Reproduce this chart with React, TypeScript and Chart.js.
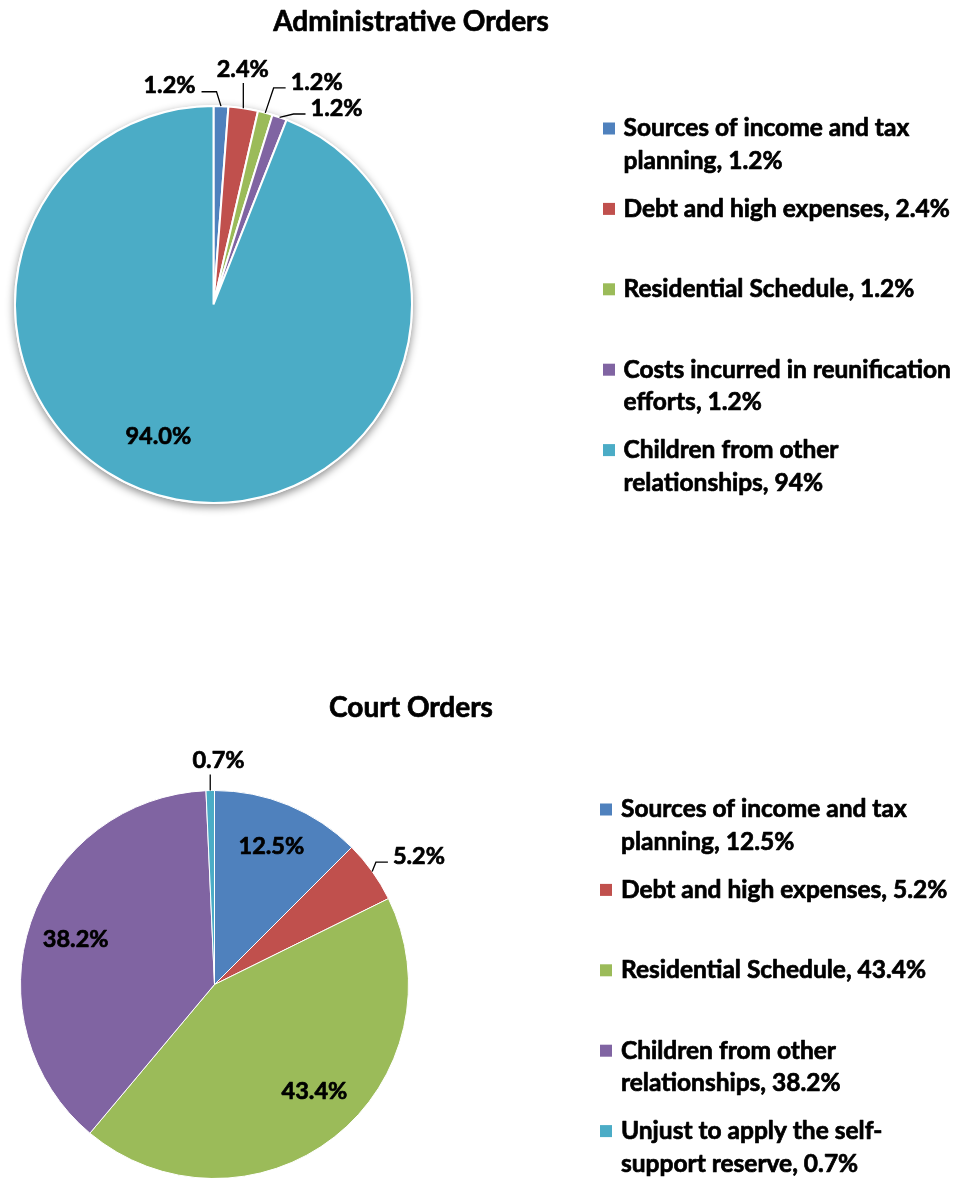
import React, { useEffect, useRef } from "react";
import { Chart, registerables } from "chart.js";

Chart.register(...registerables);

// ---------- DATA ----------
const adminTitle = "Administrative Orders";
const adminCategories = [
  "Sources of income and tax planning",
  "Debt and high expenses",
  "Residential Schedule",
  "Costs incurred in reunification efforts",
  "Children from other relationships",
];
const adminValues = [1.2, 2.4, 1.2, 1.2, 94.0];

const courtTitle = "Court Orders";
const courtCategories = [
  "Sources of income and tax planning",
  "Debt and high expenses",
  "Residential Schedule",
  "Children from other relationships",
  "Unjust to apply the self-support reserve",
];
const courtValues = [12.5, 5.2, 43.4, 38.2, 0.7];

const sliceColors = ["#4F81BD", "#C0504D", "#9BBB59", "#8064A2", "#4BACC6"];

// ---------- STYLE / LAYOUT ----------
const FONT = "Lato, 'Open Sans', sans-serif";
const TITLE_SIZE = 28;
const LABEL_SIZE = 23.5;
const LEGEND_SIZE = 24.5;
const HEAVY = 0.7; // extra stroke to thicken the bold face

type LabelLayout = {
  mode: "in" | "out";
  f?: number;
  dx: number;
  dy: number;
  leader?: "elbow" | "vertical";
};

const adminLabelLayout: LabelLayout[] = [
  { mode: "out", dx: -51.5, dy: -20.4, leader: "elbow" },
  { mode: "out", dx: -0.6, dy: -39.3, leader: "vertical" },
  { mode: "out", dx: 51.4, dy: -30.9, leader: "elbow" },
  { mode: "out", dx: 57, dy: -9.3, leader: "elbow" },
  { mode: "in", f: 0.75, dx: -27.3, dy: -14.2 },
];

const courtLabelLayout: LabelLayout[] = [
  { mode: "in", f: 0.8, dx: -2.5, dy: 5 },
  { mode: "out", dx: 46.8, dy: -15.3, leader: "elbow" },
  { mode: "in", f: 0.75, dx: 10, dy: -7 },
  { mode: "in", f: 0.75, dx: -1, dy: 2 },
  { mode: "out", dx: 8.3, dy: -30, leader: "vertical" },
];

function fmtLabel(v: number) {
  return v.toFixed(1) + "%";
}
function fmtLegend(v: number) {
  return (Number.isInteger(v) ? String(v) : v.toFixed(1)) + "%";
}

function wrap(ctx: CanvasRenderingContext2D, text: string, maxW: number) {
  const tokens: string[] = [];
  text.split(" ").forEach((w, i, arr) => {
    const parts = w.split(/(?<=-)/);
    parts.forEach((p, j) => {
      const last = j === parts.length - 1;
      tokens.push(p + (last && i < arr.length - 1 ? " " : ""));
    });
  });
  const lines: string[] = [];
  let cur = "";
  for (const t of tokens) {
    const test = cur + t;
    if (cur && ctx.measureText(test.trimEnd()).width > maxW) {
      lines.push(cur.trimEnd());
      cur = t;
    } else {
      cur = test;
    }
  }
  if (cur) lines.push(cur.trimEnd());
  return lines;
}

function heavyText(ctx: CanvasRenderingContext2D, t: string, x: number, y: number) {
  ctx.fillText(t, x, y);
  ctx.save();
  ctx.lineWidth = HEAVY;
  ctx.strokeStyle = ctx.fillStyle as string;
  ctx.lineJoin = "round";
  ctx.strokeText(t, x, y);
  ctx.restore();
}

type DecorCfg = {
  title: string;
  titleX: number;
  titleY: number;
  categories: string[];
  values: number[];
  colors: string[];
  layout: LabelLayout[];
  legendMarkerX: number;
  legendTextX: number;
  legendY0: number;
  legendStep: number;
  legendLine: number;
  legendMaxW: number;
  shadow: boolean;
};

function makeDecor(cfg: DecorCfg) {
  return {
    id: "pieDecor",
    beforeDatasetsDraw(chart: any) {
      if (!cfg.shadow) return;
      const arc = chart.getDatasetMeta(0).data[0];
      if (!arc) return;
      const { x, y, outerRadius } = arc.getProps(["x", "y", "outerRadius"], true);
      const ctx = chart.ctx as CanvasRenderingContext2D;
      ctx.save();
      ctx.shadowColor = "rgba(0,0,0,0.45)";
      ctx.shadowBlur = 8;
      ctx.shadowOffsetX = 0;
      ctx.shadowOffsetY = 3;
      ctx.fillStyle = "#ffffff";
      ctx.beginPath();
      ctx.arc(x, y, outerRadius + 1, 0, Math.PI * 2);
      ctx.fill();
      ctx.restore();
    },
    afterDatasetsDraw(chart: any) {
      const ctx = chart.ctx as CanvasRenderingContext2D;
      const meta = chart.getDatasetMeta(0);
      ctx.save();
      ctx.font = `bold ${LABEL_SIZE}px ${FONT}`;
      ctx.textAlign = "center";
      ctx.textBaseline = "middle";
      ctx.fillStyle = "#000000";
      ctx.strokeStyle = "#000000";
      meta.data.forEach((arc: any, i: number) => {
        const L = cfg.layout[i];
        const { x, y, startAngle, endAngle, outerRadius } = arc.getProps(
          ["x", "y", "startAngle", "endAngle", "outerRadius"],
          true
        );
        const mid = (startAngle + endAngle) / 2;
        const txt = fmtLabel(cfg.values[i]);
        const w = ctx.measureText(txt).width;
        if (L.mode === "in") {
          const r = outerRadius * (L.f || 0.7);
          const lx = x + Math.cos(mid) * r + L.dx;
          const ly = y + Math.sin(mid) * r + L.dy;
          heavyText(ctx, txt, lx, ly);
        } else {
          const ax = x + Math.cos(mid) * outerRadius;
          const ay = y + Math.sin(mid) * outerRadius;
          const lx = ax + L.dx;
          const ly = ay + L.dy;
          heavyText(ctx, txt, lx, ly);
          ctx.lineWidth = 1.3;
          ctx.beginPath();
          if (L.leader === "vertical") {
            ctx.moveTo(ax, ay);
            ctx.lineTo(ax, ly + 14);
          } else {
            const left = lx > ax;
            const edge = left ? lx - w / 2 - 5 : lx + w / 2 + 6;
            const hy = ly + 6;
            const elbow = left ? edge - 12 : edge + 15;
            ctx.moveTo(edge, hy);
            ctx.lineTo(elbow, hy);
            ctx.lineTo(ax, ay);
          }
          ctx.stroke();
        }
      });
      ctx.restore();
    },
    afterDraw(chart: any) {
      const ctx = chart.ctx as CanvasRenderingContext2D;
      ctx.save();
      ctx.font = `bold ${TITLE_SIZE}px ${FONT}`;
      ctx.textAlign = "center";
      ctx.textBaseline = "middle";
      ctx.fillStyle = "#000000";
      heavyText(ctx, cfg.title, cfg.titleX, cfg.titleY);
      ctx.font = `bold ${LEGEND_SIZE}px ${FONT}`;
      ctx.textAlign = "left";
      cfg.categories.forEach((c, i) => {
        const y0 = cfg.legendY0 + i * cfg.legendStep;
        ctx.fillStyle = cfg.colors[i];
        ctx.fillRect(cfg.legendMarkerX, y0 - 6, 12, 12);
        ctx.fillStyle = "#000000";
        const lines = wrap(ctx, c + ", " + fmtLegend(cfg.values[i]), cfg.legendMaxW);
        lines.forEach((ln, k) => {
          heavyText(ctx, ln, cfg.legendTextX, y0 + k * cfg.legendLine);
        });
      });
      ctx.restore();
    },
  };
}

function PieCanvas(props: {
  top: number;
  height: number;
  padding: { left: number; top: number; right: number; bottom: number };
  borderWidth: number;
  cfg: DecorCfg;
}) {
  const ref = useRef<HTMLCanvasElement | null>(null);
  useEffect(() => {
    if (!ref.current) return;
    const { cfg } = props;
    const chart = new Chart(ref.current, {
      type: "pie",
      data: {
        labels: cfg.categories,
        datasets: [
          {
            data: cfg.values,
            backgroundColor: cfg.colors,
            borderColor: "#ffffff",
            borderWidth: props.borderWidth,
          },
        ],
      },
      options: {
        responsive: false,
        animation: false,
        devicePixelRatio: 1,
        layout: { padding: props.padding },
        plugins: {
          legend: { display: false },
          tooltip: { enabled: false },
          title: { display: false },
        },
      },
      plugins: [makeDecor(cfg)],
    });
    return () => chart.destroy();
  }, []);
  return (
    <canvas
      ref={ref}
      width={961}
      height={props.height}
      style={{ position: "absolute", left: 0, top: props.top, width: 961, height: props.height }}
    />
  );
}

export default function App() {
  const adminCfg: DecorCfg = {
    title: adminTitle,
    titleX: 411,
    titleY: 22,
    categories: adminCategories,
    values: adminValues,
    colors: sliceColors,
    layout: adminLabelLayout,
    legendMarkerX: 603,
    legendTextX: 623.5,
    legendY0: 128.5,
    legendStep: 80.4,
    legendLine: 32.6,
    legendMaxW: 334,
    shadow: true,
  };
  const courtCfg: DecorCfg = {
    title: courtTitle,
    titleX: 411,
    titleY: 118,
    categories: courtCategories,
    values: courtValues,
    colors: sliceColors,
    layout: courtLabelLayout,
    legendMarkerX: 600,
    legendTextX: 621,
    legendY0: 219.5,
    legendStep: 80.4,
    legendLine: 32.6,
    legendMaxW: 334,
    shadow: false,
  };
  return (
    <div
      style={{
        position: "absolute",
        left: 0,
        top: 0,
        width: 961,
        height: 1178,
        overflow: "hidden",
        background: "#ffffff",
      }}
    >
      <PieCanvas
        top={0}
        height={600}
        padding={{ left: 14, top: 105, right: 548, bottom: 96 }}
        borderWidth={2}
        cfg={adminCfg}
      />
      <PieCanvas
        top={590}
        height={600}
        padding={{ left: 20, top: 200, right: 552, bottom: 11 }}
        borderWidth={1}
        cfg={courtCfg}
      />
    </div>
  );
}
